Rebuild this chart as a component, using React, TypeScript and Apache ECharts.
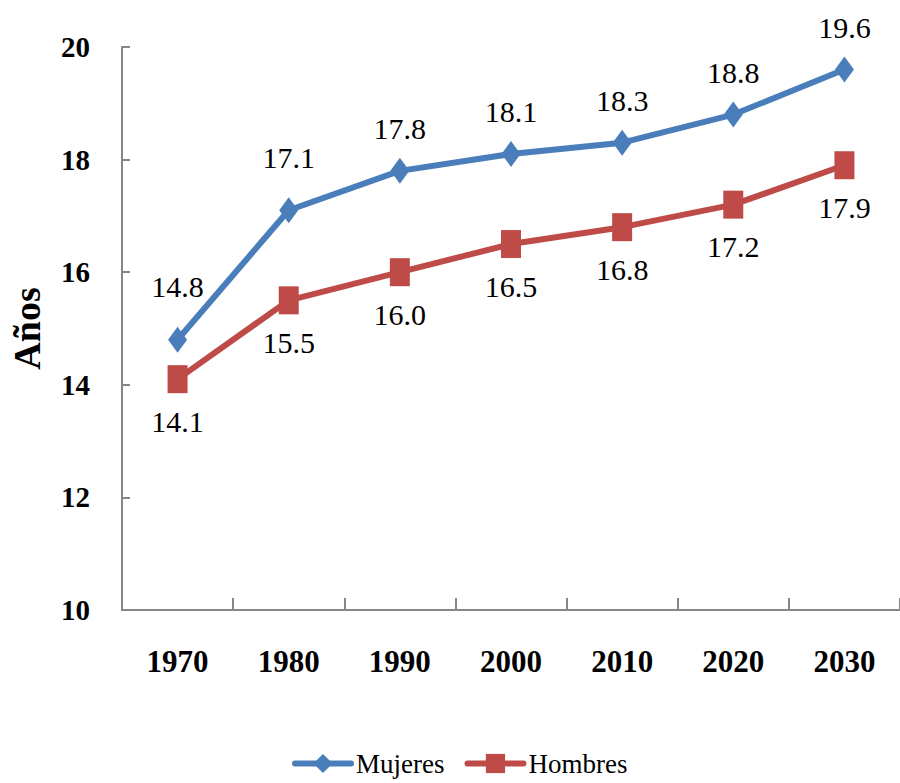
import React, { useEffect, useRef } from "react";
import * as echarts from "echarts";

const categories = ["1970", "1980", "1990", "2000", "2010", "2020", "2030"];
const mujeres = [14.8, 17.1, 17.8, 18.1, 18.3, 18.8, 19.6];
const hombres = [14.1, 15.5, 16.0, 16.5, 16.8, 17.2, 17.9];
const yMin = 10;
const yMax = 20;
const yInterval = 2;

const FONT = "Liberation Serif, Times New Roman, Times, serif";

export default function App() {
  const ref = useRef<HTMLDivElement>(null);
  useEffect(() => {
    document.body.style.margin = "0";
    if (!ref.current) return;
    const chart = echarts.init(ref.current, undefined, { renderer: "svg" });
    const axisColor = "#868686";
    const labelStyle = {
      fontFamily: FONT,
      fontSize: 30,
      fontWeight: "normal",
      fontStyle: "normal",
      color: "#000",
    };
    // The first two "Mujeres" labels sit a little higher in the reference
    const mujeresData = mujeres.map((v, i) =>
      i < 2 ? { value: v, label: { offset: [0, -53] } } : v
    );
    chart.setOption({
      animation: false,
      backgroundColor: "#ffffff",
      textStyle: { fontFamily: FONT },
      grid: { left: 120, top: 47, width: 784, height: 563, containLabel: false },
      legend: {
        left: 287,
        top: 745,
        itemWidth: 56,
        itemHeight: 24,
        itemGap: 20,
        textStyle: { ...labelStyle, fontSize: 27 },
        lineStyle: { width: 6 },
        data: [
          { name: "Mujeres", lineStyle: { width: 6, color: "#4A7EBB", cap: "round" } },
          { name: "Hombres", lineStyle: { width: 6, color: "#BE4B48", cap: "round" } },
        ],
      },
      xAxis: {
        type: "category",
        data: categories,
        boundaryGap: true,
        axisLine: { lineStyle: { color: axisColor, width: 2 } },
        axisTick: { show: true, inside: true, length: 12, alignWithLabel: false, lineStyle: { color: axisColor, width: 2 } },
        axisLabel: {
          margin: 36,
          fontFamily: FONT,
          fontSize: 31,
          fontWeight: "bold",
          color: "#000",
        },
        splitLine: { show: false },
      },
      yAxis: {
        type: "value",
        min: yMin,
        max: yMax,
        interval: yInterval,
        name: "Años",
        nameLocation: "middle",
        nameGap: 76,
        nameRotate: 90,
        nameTextStyle: { fontFamily: FONT, fontSize: 38, fontWeight: "bold", color: "#000" },
        axisLine: { show: true, lineStyle: { color: axisColor, width: 2 } },
        axisTick: { show: true, inside: true, length: 8, lineStyle: { color: axisColor, width: 2 } },
        axisLabel: {
          margin: 32,
          fontFamily: FONT,
          fontSize: 29,
          fontWeight: "bold",
          color: "#000",
          verticalAlign: "middle",
          padding: [0, 0, 22, 0],
        },
        splitLine: { show: false },
      },
      series: [
        {
          name: "Mujeres",
          type: "line",
          data: mujeresData,
          symbol: "diamond",
          symbolSize: [19, 26],
          color: "#4A7EBB",
          lineStyle: { width: 6, color: "#4A7EBB", cap: "round" },
          itemStyle: { color: "#4A7EBB" },
          label: {
            show: true,
            position: "inside",
            offset: [0, -42],
            ...labelStyle,
            formatter: (p: any) => Number(p.value).toFixed(1),
          },
          z: 3,
        },
        {
          name: "Hombres",
          type: "line",
          data: hombres,
          symbol: "rect",
          symbolSize: [20, 28],
          color: "#BE4B48",
          lineStyle: { width: 6, color: "#BE4B48", cap: "round" },
          itemStyle: { color: "#BE4B48" },
          label: {
            show: true,
            position: "inside",
            offset: [0, 42],
            ...labelStyle,
            formatter: (p: any) => Number(p.value).toFixed(1),
          },
          z: 2,
        },
      ],
    });
    return () => chart.dispose();
  }, []);
  return <div ref={ref} style={{ width: 900, height: 783 }} />;
}
